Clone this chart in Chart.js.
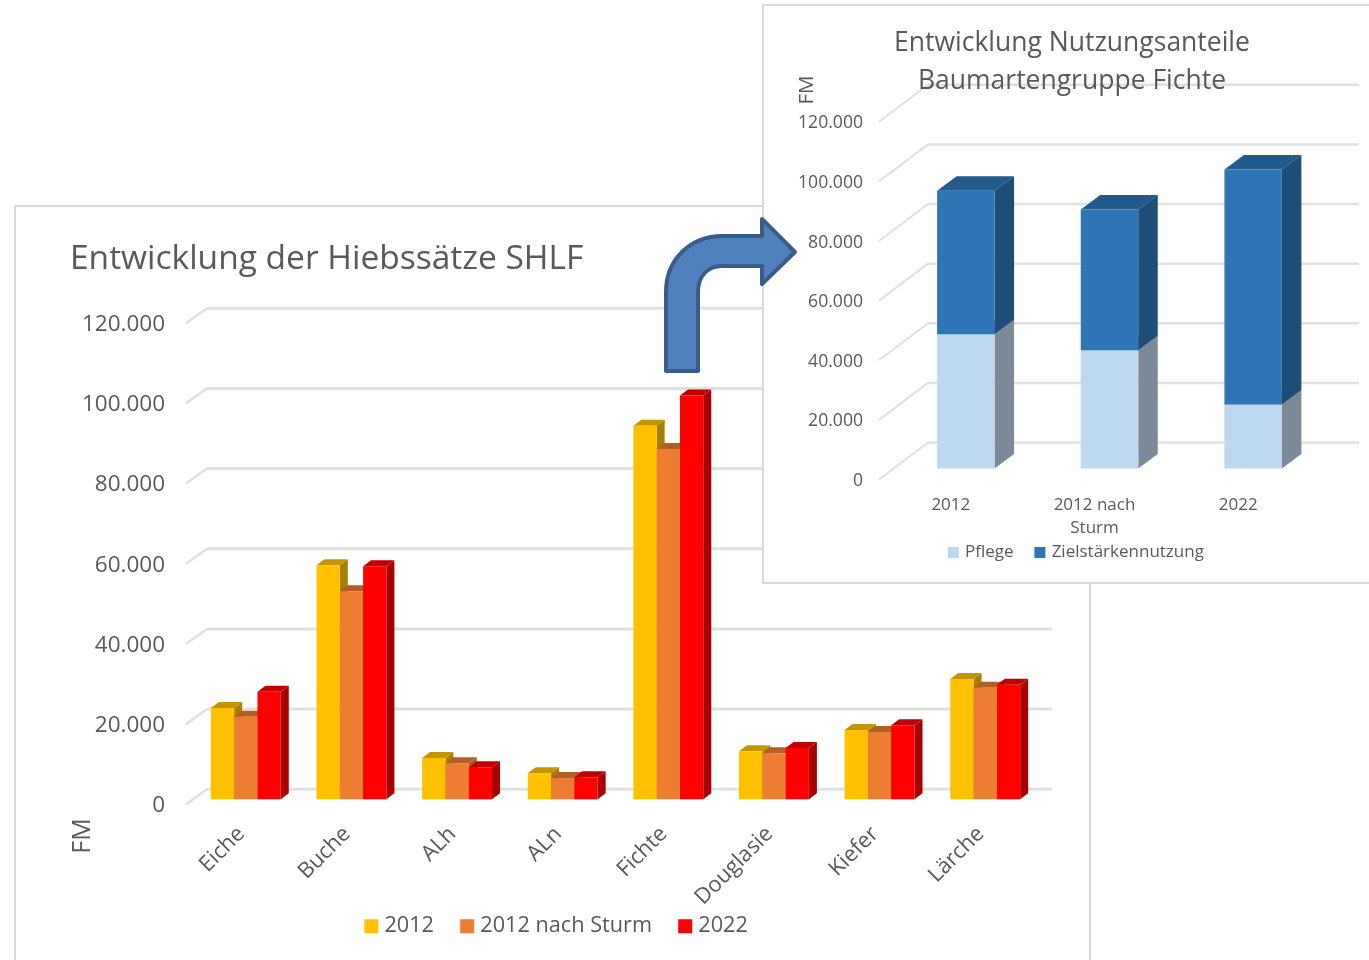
<!DOCTYPE html>
<html lang="de">
<head>
<meta charset="utf-8">
<title>Entwicklung der Hiebssätze SHLF</title>
<script src="https://cdn.jsdelivr.net/npm/chart.js@4"></script>
<style>
html,body{margin:0;padding:0;background:#fff;width:1369px;height:960px;overflow:hidden}
.panel{position:absolute;box-sizing:border-box;background:#fff;border:2px solid #d9d9d9}
#p1{left:14px;top:205px;width:1077px;height:790px}
#p2{left:762px;top:4px;width:620px;height:580px}
canvas{position:absolute;display:block}
#c1{left:-1px;top:-1px}
#c2{left:-1px;top:1px}
#arrow{position:absolute;left:0;top:0;pointer-events:none}
</style>
</head>
<body>
<div class="panel" id="p1"><canvas id="c1" width="1076" height="768"></canvas></div>
<div class="panel" id="p2"><canvas id="c2" width="606" height="583"></canvas></div>
<svg id="arrow" width="1369" height="960" xmlns="http://www.w3.org/2000/svg">
<path d="M666 371 L666 292 C666 258 692 236 722 236 L762 236 L762 219 L795 252 L762 284 L762 266 L722 266 C708 266 698 276 698 292 L698 371 Z" fill="#4f81bd" stroke="#385d8a" stroke-width="4" stroke-linejoin="round"/>
</svg>
<script>
// ---- main chart data (FM)
const mainCategories = ['Eiche','Buche','ALh','ALn','Fichte','Douglasie','Kiefer','Lärche'];
const series2012 = [22800,58400,10300,6500,93200,12000,17300,30000];
const series2012Sturm = [20600,51900,9000,5300,87400,11500,16800,27800];
const series2022 = [26800,58100,8000,5500,100700,12800,18500,28600];
// ---- inset chart data (FM)
const insetCategories = ['2012',['2012 nach','Sturm'],'2022'];
const seriesPflege = [45000,39700,21500];
const seriesZiel = [48200,47200,78800];

const FONT = '"Open Sans", sans-serif';
const TEXT = '#595959';
const GRID = '#e0e0e0';
const fmt = v => Number(v).toLocaleString('de-DE');

const bar3d = {
  id: 'bar3d',
  beforeLayout(chart) {
    // the title sits on top of the back-wall gridlines
    const t = chart.titleBlock;
    t._layers = () => [{z: 1, draw(area) { t.draw(area); }}];
  },
  beforeDatasetsDraw(chart, args, o) {
    const {ctx, chartArea: a} = chart;
    const ys = chart.scales.y;
    ctx.save();
    ctx.strokeStyle = GRID;
    ys.ticks.forEach((t, i) => {
      const y = ys.getPixelForTick(i);
      ctx.lineWidth = o.slantWidth;
      ctx.beginPath();
      ctx.moveTo(a.left, y);
      ctx.lineTo(a.left + o.wallX, y - o.wallY);
      ctx.stroke();
      ctx.lineWidth = o.wallWidth;
      ctx.beginPath();
      ctx.moveTo(a.left + o.wallX, y - o.wallY);
      ctx.lineTo(a.right + o.wallX, y - o.wallY);
      ctx.stroke();
    });
    ctx.translate(o.shiftX, o.shiftY);
    chart.data.datasets.forEach((ds, di) => {
      const meta = chart.getDatasetMeta(di);
      meta.data.forEach(el => {
        const {x, y, base, width} = el.getProps(['x','y','base','width'], true);
        const l = x - width / 2, r = x + width / 2;
        ctx.fillStyle = o.side[di];
        ctx.beginPath();
        ctx.moveTo(r, y); ctx.lineTo(r + o.depthX, y - o.depthY);
        ctx.lineTo(r + o.depthX, base - o.depthY); ctx.lineTo(r, base);
        ctx.closePath(); ctx.fill();
        ctx.fillStyle = o.top[di];
        ctx.beginPath();
        ctx.moveTo(l, y); ctx.lineTo(l + o.depthX, y - o.depthY);
        ctx.lineTo(r + o.depthX, y - o.depthY); ctx.lineTo(r, y);
        ctx.closePath(); ctx.fill();
        el.draw(ctx);
      });
    });
    ctx.restore();
  },
  beforeDatasetDraw() { return false; },
  afterLayout(chart, args, o) {
    chart.legend.left += o.legendShift;
    chart.legend.right += o.legendShift;
    chart.legend.top += o.legendShiftY;
    chart.legend.bottom += o.legendShiftY;
    chart.titleBlock.left += o.titleShift;
    chart.titleBlock.right += o.titleShift;
  },
  afterDraw(chart, args, o) {
    const ctx = chart.ctx;
    ctx.save();
    ctx.translate(o.fmX, o.fmY);
    ctx.rotate(-Math.PI / 2);
    ctx.font = o.fmSize + 'px ' + FONT;
    ctx.fillStyle = TEXT;
    ctx.textAlign = 'center';
    ctx.textBaseline = 'middle';
    ctx.fillText('FM', 0, 0);
    ctx.restore();
  }
};

function fixSize(w, h, dx, dy) {
  return s => {
    if (w != null) s.width = w;
    if (h != null) { s.height = h; s.paddingLeft = 0; s.paddingRight = 0; }
    if (!s._nudged) {
      s._nudged = true;
      const f = s._computeLabelItems;
      s._computeLabelItems = function (ca) {
        const items = f.call(this, ca);
        items.forEach(it => { it.options.translation[0] += dx; it.options.translation[1] += dy; });
        return items;
      };
    }
  };
}
// compact legend swatches: a small box thickened by a same-coloured stroke
function swatches(lw) {
  return chart => Chart.defaults.plugins.legend.labels.generateLabels(chart)
    .map(i => ({...i, lineWidth: lw, strokeStyle: i.fillStyle, lineJoin: 'miter'}));
}

new Chart(document.getElementById('c1'), {
  type: 'bar',
  plugins: [bar3d],
  data: {
    labels: mainCategories,
    datasets: [
      {label:'2012', data:series2012, backgroundColor:'#FFC000'},
      {label:'2012 nach Sturm', data:series2012Sturm, backgroundColor:'#ED7D31'},
      {label:'2022', data:series2022, backgroundColor:'#FF0000'}
    ]
  },
  options: {
    responsive:false, animation:false,
    layout:{padding:{left:55,right:60,top:0,bottom:0}},
    datasets:{bar:{categoryPercentage:0.662,barPercentage:1}},
    plugins:{
      title:{display:true,text:'Entwicklung der Hiebssätze SHLF',align:'start',color:TEXT,
        font:{family:FONT,size:33.5,weight:'normal',lineHeight:1.2},padding:{top:33,bottom:44}},
      legend:{position:'bottom',labels:{color:TEXT,font:{family:FONT,size:21.7},boxWidth:4.4,boxHeight:4.4,padding:31,generateLabels:swatches(9.6)}},
      tooltip:{enabled:false},
      bar3d:{wallX:21,wallY:15,shiftX:7,shiftY:-5,depthX:8,depthY:6,slantWidth:2.5,wallWidth:3,
        side:['#A68000','#A65A24','#A80000'],top:['#C49500','#B35E25','#C00000'],
        legendShift:8,legendShiftY:-27,titleShift:0,fmX:68,fmY:630,fmSize:25}
    },
    scales:{
      x:{grid:{display:false},border:{display:false},
        afterFit:fixSize(null,107,2.5,0),
        ticks:{color:TEXT,font:{family:FONT,size:21.8},minRotation:45,maxRotation:45,padding:9,autoSkip:false}},
      y:{min:0,max:120000,grid:{display:false},border:{display:false},
        afterFit:fixSize(116,null,0,1.5),
        ticks:{stepSize:20000,color:TEXT,font:{family:FONT,size:22.5},padding:13,callback:fmt}}
    }
  }
});

new Chart(document.getElementById('c2'), {
  type: 'bar',
  plugins: [bar3d],
  data: {
    labels: insetCategories,
    datasets: [
      {label:'Pflege', data:seriesPflege, backgroundColor:'#BDD7EE'},
      {label:'Zielstärkennutzung', data:seriesZiel, backgroundColor:'#2E75B6'}
    ]
  },
  options: {
    responsive:false, animation:false,
    layout:{padding:{left:30,right:59,top:0,bottom:0}},
    datasets:{bar:{categoryPercentage:1,barPercentage:0.4}},
    plugins:{
      title:{display:true,text:['Entwicklung Nutzungsanteile','Baumartengruppe Fichte'],align:'center',color:TEXT,
        font:{family:FONT,size:26.5,weight:'normal',lineHeight:1.43},padding:{top:18,bottom:21}},
      legend:{position:'bottom',labels:{color:TEXT,font:{family:FONT,size:17},boxWidth:6.5,boxHeight:6.5,padding:23,generateLabels:swatches(4.5)}},
      tooltip:{enabled:false},
      bar3d:{wallX:49,wallY:37,shiftX:15,shiftY:-11,depthX:19.5,depthY:14.5,slantWidth:2,wallWidth:2.5,
        side:['#7B8A98','#1E4D78'],top:['#7B8A98','#235A8C'],
        legendShift:25.5,legendShiftY:-19,titleShift:20.5,fmX:44,fmY:83,fmSize:20.5}
    },
    scales:{
      x:{stacked:true,grid:{display:false},border:{display:false},
        afterFit:fixSize(null,60.5,0,-1),
        ticks:{color:TEXT,font:{family:FONT,size:17,lineHeight:1.35},maxRotation:0,minRotation:0,padding:7,autoSkip:false}},
      y:{stacked:true,min:0,max:120000,grid:{display:false},border:{display:false},
        afterFit:fixSize(86,null,1,1.5),
        ticks:{stepSize:20000,color:TEXT,font:{family:FONT,size:17.6},padding:9,callback:fmt}}
    }
  }
});
</script>
</body>
</html>
